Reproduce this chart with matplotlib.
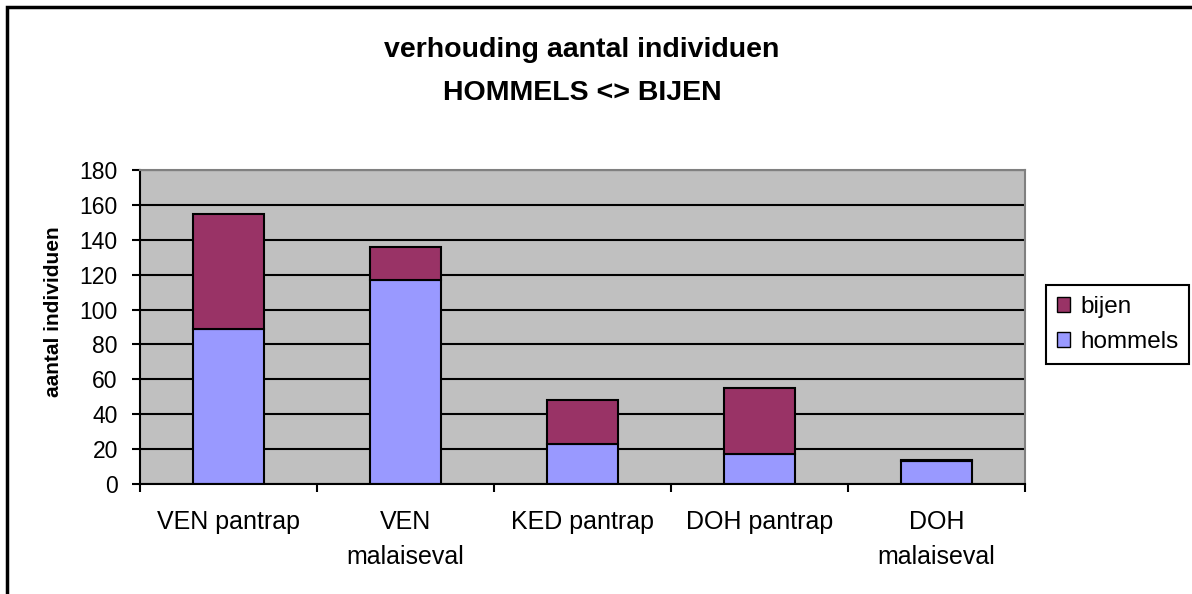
import matplotlib.pyplot as plt
import matplotlib.patches as mpatches
import numpy as np

plt.rcParams['font.family'] = ['Liberation Sans', 'DejaVu Sans']

# data
categories = ['VEN pantrap', 'VEN\nmalaiseval', 'KED pantrap', 'DOH pantrap', 'DOH\nmalaiseval']
hommels = [89, 117, 23, 17, 13]
bijen = [66, 19, 25, 38, 1]

c_hommels = '#9999FF'
c_bijen = '#993366'

W, H = 1192, 594
fig = plt.figure(figsize=(W / 100, H / 100), dpi=100)
ax = fig.add_axes([140 / W, 1 - 484 / H, (1025 - 140) / W, (484 - 170) / H])

x = np.arange(len(categories))
ax.set_facecolor('#C0C0C0')
ax.set_axisbelow(True)
ax.yaxis.grid(True, color='black', linewidth=1.5)

ax.bar(x, hommels, width=0.4, color=c_hommels, edgecolor='black', linewidth=1.5, label='hommels')
ax.bar(x, bijen, width=0.4, bottom=hommels, color=c_bijen, edgecolor='black', linewidth=1.5, label='bijen')

ax.set_xlim(-0.5, len(categories) - 0.5)
ax.set_ylim(0, 180)
ax.set_yticks(range(0, 181, 20))
ax.tick_params(axis='y', labelsize=16.5, length=6, width=1.5, direction='out', pad=10)

# ticks between categories, labels at the centres
ax.set_xticks(np.arange(-0.5, len(categories), 1.0))
ax.set_xticklabels([])
ax.tick_params(axis='x', which='major', length=6, width=1.5, direction='out')
ax.set_xticks(x, minor=True)
ax.set_xticklabels(categories, minor=True, fontsize=18, linespacing=1.55)
ax.tick_params(axis='x', which='minor', length=0, pad=19)

for side in ['top', 'right']:
    ax.spines[side].set_color('#808080')
    ax.spines[side].set_linewidth(1.5)
for side in ['left', 'bottom']:
    ax.spines[side].set_color('black')
    ax.spines[side].set_linewidth(1.5)

ax.set_ylabel('aantal individuen', fontsize=15, fontweight='bold')
ax.yaxis.set_label_coords(-(140 - 63) / (1025 - 140), (484 - 312) / (484 - 170))

fig.text(582 / W, 1 - 57 / H, 'verhouding aantal individuen', ha='center', va='baseline',
         fontsize=20.5, fontweight='bold')
fig.text(582 / W, 1 - 100 / H, 'HOMMELS <> BIJEN', ha='center', va='baseline',
         fontsize=20.5, fontweight='bold')

handles = [mpatches.Patch(facecolor=c_bijen, edgecolor='black', label='bijen'),
           mpatches.Patch(facecolor=c_hommels, edgecolor='black', label='hommels')]
leg = fig.legend(handles=handles, loc='upper left', bbox_to_anchor=(1046 / W, 1 - 285 / H),
                 bbox_transform=fig.transFigure, fontsize=17.5, frameon=True, fancybox=False,
                 edgecolor='black', framealpha=1, borderaxespad=0, handlelength=0.55,
                 handleheight=0.55, handletextpad=0.4, labelspacing=0.55, borderpad=0.45)
leg.get_frame().set_linewidth(1.5)

# outer chart border (right and bottom fall outside the image)
fig.patches.append(mpatches.Rectangle((7 / W, -0.1), 1.2, 1.1 - 7 / H,
                                      transform=fig.transFigure, fill=False,
                                      edgecolor='black', linewidth=2.5, clip_on=False))

fig.savefig('out.png', dpi=100)
